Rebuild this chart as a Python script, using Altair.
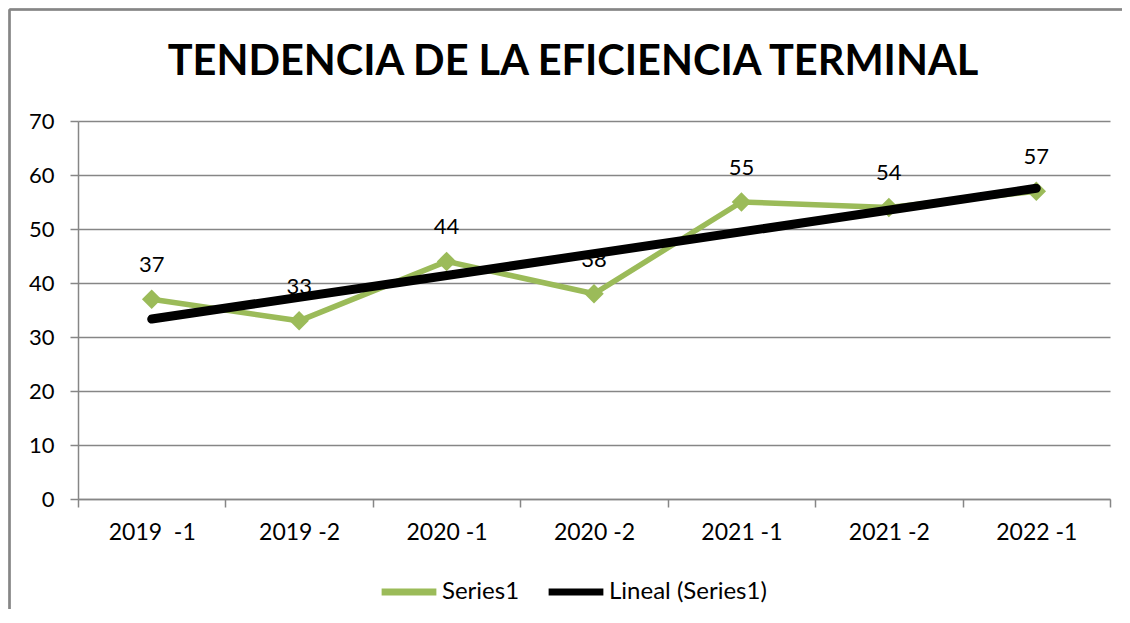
import altair as alt
import pandas as pd

# ---- data ----
periodos = ["2019  -1", "2019 -2", "2020 -1", "2020 -2", "2021 -1", "2021 -2", "2022 -1"]
valores = [37, 33, 44, 38, 55, 54, 57]
indices = [1, 2, 3, 4, 5, 6, 7]
y_ticks = [0, 10, 20, 30, 40, 50, 60, 70]
series_names = ["Series1", "Lineal (Series1)"]
series_colors = ["#9BBB59", "#000000"]

df = pd.DataFrame({"periodo": periodos, "valor": valores, "idx": indices})

FONT = "Lato"
GRAY = "#868686"
W, H = 1032, 378

x_enc = alt.X(
    "periodo:N",
    sort=periodos,
    scale=alt.Scale(type="band", paddingInner=0, paddingOuter=0),
    axis=alt.Axis(title=None, labelAngle=0, tickBand="extent", grid=False,
                  tickSize=8, labelPadding=14, labelFontSize=23, labelFont=FONT,
                  labelColor="#000000",
                  labelExpr="replace(datum.label, '  ', '\u00a0 ')"),
)
y_enc = alt.Y(
    "valor:Q",
    scale=alt.Scale(domain=[0, 70], nice=False),
    axis=alt.Axis(title=None, values=y_ticks, tickSize=8, labelPadding=16,
                  labelFontSize=22, labelFont=FONT, labelColor="#000000", grid=True),
)
color_enc = alt.Color(
    "serie:N",
    scale=alt.Scale(domain=series_names, range=series_colors),
    legend=alt.Legend(title=None, orient="none", direction="horizontal",
                      legendX=300, legendY=440, symbolType="stroke",
                      symbolSize=3000, symbolStrokeWidth=7, labelFontSize=24,
                      labelFont=FONT, labelColor="#000000", columnPadding=14,
                      labelOffset=2),
)

base = alt.Chart(df)

serie_line = base.transform_calculate(serie="'Series1'").mark_line(
    strokeWidth=5.5
).encode(x=x_enc, y=y_enc, color=color_enc)

points = base.mark_point(shape="diamond", filled=True, size=380, opacity=1,
                         color="#9BBB59").encode(x=x_enc, y=y_enc)

labels = base.mark_text(dy=-34, fontSize=22, font=FONT, color="#000000").encode(
    x=x_enc, y=y_enc, text="valor:Q")

label_expr = "[" + ",".join("'" + p + "'" for p in periodos) + "][datum.idx - 1]"
trend = base.transform_regression("idx", "valor").transform_calculate(
    periodo=label_expr, serie="'Lineal (Series1)'"
).mark_line(strokeWidth=9, strokeCap="round").encode(x=x_enc, y=y_enc, color=color_enc)

# outer chart-area frame (left and top edges visible in the reference)
frame_left = alt.Chart(df).mark_rule(color=GRAY, strokeWidth=1.5).encode(
    x=alt.value(-68.5), y=alt.value(-111.5), y2=alt.value(H + 200))
frame_top = alt.Chart(df).mark_rule(color=GRAY, strokeWidth=1.5).encode(
    x=alt.value(-68.5), x2=alt.value(W + 100), y=alt.value(-111.5))

chart = alt.layer(frame_left, frame_top, serie_line, points, labels, trend).properties(
    width=W, height=H,
    title=alt.TitleParams("TENDENCIA DE LA EFICIENCIA TERMINAL", font=FONT,
                          fontSize=41.5, fontWeight="bold", color="#000000",
                          anchor="middle", frame="group", dx=-21,
                          baseline="alphabetic", offset=-108),
    autosize=alt.AutoSizeParams(type="none"),
    padding={"left": 70, "top": 113, "right": 12, "bottom": 110},
).configure_view(stroke=None).configure_axis(
    domainColor=GRAY, domainWidth=1.5, tickColor=GRAY, tickWidth=1.5,
    gridColor=GRAY, gridWidth=1.5,
)

chart.save("out.html", embed_options={"renderer": "svg", "actions": False})
